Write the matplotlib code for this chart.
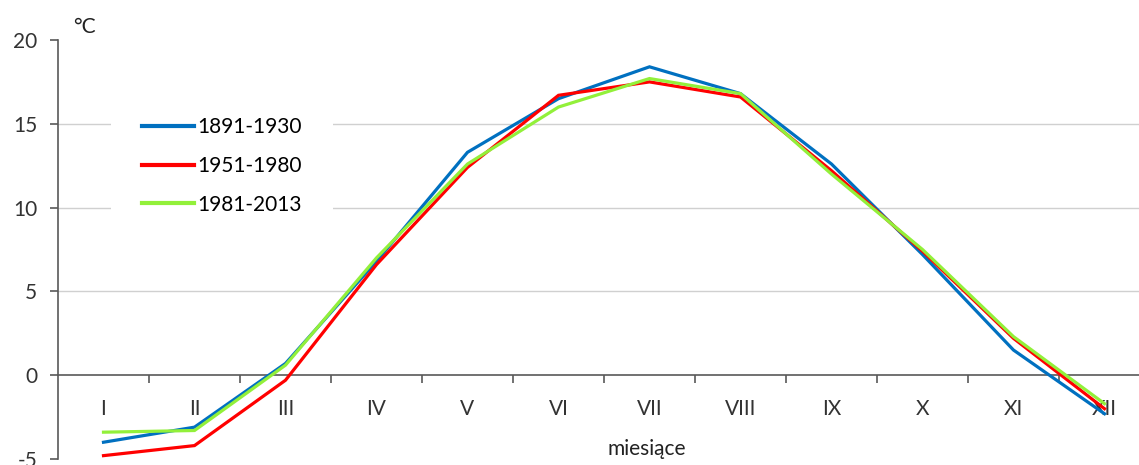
import numpy as np
import matplotlib.pyplot as plt

# dane: średnie miesięczne temperatury powietrza
months = ['I', 'II', 'III', 'IV', 'V', 'VI', 'VII', 'VIII', 'IX', 'X', 'XI', 'XII']
t_1891_1930 = [-4.0, -3.1, 0.7, 6.8, 13.3, 16.5, 18.4, 16.8, 12.6, 7.2, 1.5, -2.3]
t_1951_1980 = [-4.8, -4.2, -0.3, 6.6, 12.4, 16.7, 17.5, 16.6, 12.2, 7.4, 2.2, -2.0]
t_1981_2013 = [-3.4, -3.3, 0.6, 7.0, 12.6, 16.0, 17.7, 16.8, 12.0, 7.5, 2.3, -1.7]
series_labels = ['1891-1930', '1951-1980', '1981-2013']
y_ticks = [-5, 0, 5, 10, 15, 20]

plt.rcParams['font.family'] = ['Lato', 'DejaVu Sans']

W, H = 1139, 465
fig = plt.figure(figsize=(W / 100, H / 100), dpi=100)
# oś wychodzi trochę poza prawą krawędź (jak w oryginale)
ax = fig.add_axes([58 / W, (H - 459) / H, 12 * 91 / W, 419 / H])

x = np.arange(1, len(months) + 1)
colors = ['#0070c0', '#ff0000', '#92f03a']
for data, lab, c in zip([t_1891_1930, t_1951_1980, t_1981_2013], series_labels, colors):
    ax.plot(x, data, color=c, lw=2.3, label=lab, solid_joinstyle='miter', zorder=3)

for g in [5, 10, 15]:
    ax.axhline(g, color='#d0d0d0', lw=1.0, zorder=1)

ax.set_xlim(0.5, 12.5)
ax.set_ylim(-5, 20)
ax.set_yticks(y_ticks)
ax.set_yticklabels([str(v) for v in y_ticks])

ax.set_xticks(x)
ax.set_xticklabels(months)
ax.set_xticks(np.arange(1.5, 12.5, 1), minor=True)
ax.tick_params(axis='x', which='major', length=0, pad=17, labelsize=15, labelcolor='#333333')
ax.tick_params(axis='x', which='minor', length=6, direction='out', color='#595959', width=1.2)
ax.tick_params(axis='y', length=6, direction='out', color='#595959', width=1.2, pad=9,
               labelsize=15, labelcolor='#333333')

for s in ['top', 'right']:
    ax.spines[s].set_visible(False)
ax.spines['bottom'].set_position(('data', 0))
ax.spines['bottom'].set_color('#595959')
ax.spines['left'].set_color('#595959')
ax.spines['bottom'].set_linewidth(1.2)
ax.spines['left'].set_linewidth(1.2)

fig.text(73 / W, 1 - 27 / H, '°C', fontsize=15, color='#222222', va='center', ha='left')
fig.text(647 / W, 1 - 449 / H, 'miesiące', fontsize=15, color='#222222', va='center', ha='center')

leg = ax.legend(loc='upper left', bbox_to_anchor=(111 / W, 1 - 86 / H),
                bbox_transform=fig.transFigure, fontsize=15, frameon=True,
                handlelength=2.5, handletextpad=0.15, labelspacing=0.9,
                borderpad=1.5, borderaxespad=0)
leg.get_frame().set_facecolor('white')
leg.get_frame().set_edgecolor('none')
leg.get_frame().set_alpha(1)
for ln in leg.get_lines():
    ln.set_linewidth(3)

fig.savefig('out.png', dpi=100)
